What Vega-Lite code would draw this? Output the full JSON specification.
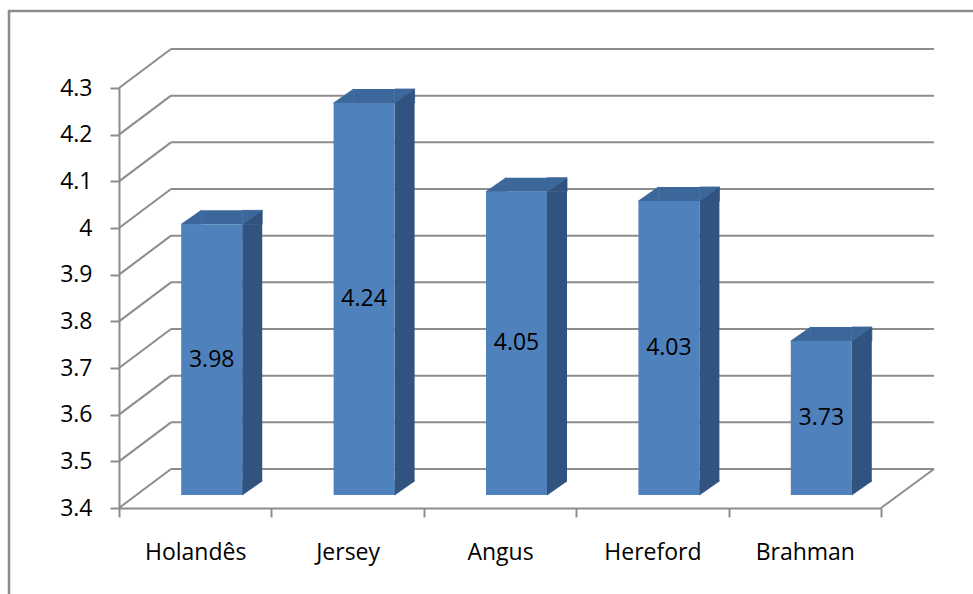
{
  "$schema": "https://vega.github.io/schema/vega-lite/v6.json",
  "width": 762,
  "height": 420,
  "autosize": {"type": "none"},
  "padding": {"left": 119, "top": 88, "right": 92, "bottom": 86},
  "background": "#ffffff",
  "config": {"view": {"stroke": null}, "font": "Open Sans"},
  "datasets": {
    "breeds": [
      {"breed": "Holandês", "value": 3.98},
      {"breed": "Jersey", "value": 4.24},
      {"breed": "Angus", "value": 4.05},
      {"breed": "Hereford", "value": 4.03},
      {"breed": "Brahman", "value": 3.73}
    ],
    "grid": [
      {"v": 3.4}, {"v": 3.5}, {"v": 3.6}, {"v": 3.7}, {"v": 3.8},
      {"v": 3.9}, {"v": 4.0}, {"v": 4.1}, {"v": 4.2}, {"v": 4.3}
    ]
  },
  "resolve": {"scale": {"x": "independent"}},
  "layer": [
    {
      "layer": [
        {
          "data": {"values": [{}]},
          "mark": {"type": "rect", "filled": false, "stroke": "#8c8c8c", "strokeWidth": 2.5, "xOffset": -110, "x2Offset": 200, "yOffset": -77, "y2Offset": 200},
          "encoding": {
            "x": {"datum": 0, "type": "quantitative", "scale": {"domain": [0, 1]}, "axis": null},
            "x2": {"datum": 1},
            "y": {
              "datum": 4.3, "type": "quantitative",
              "scale": {"domain": [3.4, 4.3], "zero": false, "nice": false},
              "axis": {
                "title": null, "values": [3.4, 3.5, 3.6, 3.7, 3.8, 3.9, 4.0, 4.1, 4.2, 4.3],
                "format": ".1~f", "labelFontSize": 23, "labelColor": "#000000", "labelPadding": 18,
                "tickSize": 9, "tickWidth": 2, "tickColor": "#8c8c8c",
                "domainColor": "#8c8c8c", "domainWidth": 2, "grid": false
              }
            },
            "y2": {"datum": 3.4}
          }
        },
        {
          "data": {"name": "grid"},
          "mark": {"type": "rule", "color": "#8c8c8c", "strokeWidth": 2, "xOffset": 52, "x2Offset": 53, "yOffset": -39, "y2Offset": -39},
          "encoding": {
            "x": {"datum": 0, "type": "quantitative", "scale": {"domain": [0, 1]}, "axis": null},
            "x2": {"datum": 1},
            "y": {"field": "v", "type": "quantitative", "scale": {"domain": [3.4, 4.3], "zero": false, "nice": false}}
          }
        },
        {
          "data": {"name": "grid"},
          "mark": {"type": "rule", "color": "#8c8c8c", "strokeWidth": 2, "x2Offset": 52, "y2Offset": -39},
          "encoding": {
            "x": {"datum": 0, "type": "quantitative", "scale": {"domain": [0, 1]}, "axis": null},
            "x2": {"datum": 0},
            "y": {"field": "v", "type": "quantitative", "scale": {"domain": [3.4, 4.3], "zero": false, "nice": false}},
            "y2": {"field": "v"}
          }
        },
        {
          "data": {"values": [{}]},
          "mark": {"type": "rule", "color": "#8c8c8c", "strokeWidth": 2, "x2Offset": 53, "y2Offset": -39},
          "encoding": {
            "x": {"datum": 1, "type": "quantitative", "scale": {"domain": [0, 1]}, "axis": null},
            "x2": {"datum": 1},
            "y": {"datum": 3.4, "type": "quantitative", "scale": {"domain": [3.4, 4.3], "zero": false, "nice": false}},
            "y2": {"datum": 3.4}
          }
        }
      ]
    },
    {
      "data": {"name": "breeds"},
      "encoding": {
        "x": {
          "field": "breed", "type": "nominal", "sort": null,
          "scale": {"paddingInner": 0, "paddingOuter": 0},
          "axis": {
            "title": null, "labelAngle": 0, "labelFontSize": 23, "labelColor": "#000000",
            "labelPadding": 24, "tickBand": "extent", "tickSize": 9, "tickWidth": 2,
            "tickColor": "#8c8c8c", "domainColor": "#8c8c8c", "domainWidth": 2, "grid": false
          }
        }
      },
      "layer": [
        {
          "mark": {"type": "bar", "size": 20, "xOffset": 57, "yOffset": -13, "y2Offset": -27, "color": "#30537f"},
          "encoding": {
            "y": {"field": "value", "type": "quantitative", "scale": {"domain": [3.4, 4.3], "zero": false, "nice": false}},
            "y2": {"datum": 3.4}
          }
        },
        {
          "mark": {"type": "point", "shape": "M0,0L-2,0L0,-1.4Z", "size": 400, "filled": true, "opacity": 1, "color": "#30537f", "stroke": "#30537f", "strokeWidth": 0.8, "strokeJoin": "bevel", "xOffset": 67, "yOffset": -13},
          "encoding": {
            "y": {"field": "value", "type": "quantitative", "scale": {"domain": [3.4, 4.3], "zero": false, "nice": false}}
          }
        },
        {
          "mark": {"type": "point", "shape": "M0,0L2,0L0,1.4Z", "size": 400, "filled": true, "opacity": 1, "color": "#30537f", "stroke": "#30537f", "strokeWidth": 0.8, "strokeJoin": "bevel", "xOffset": 47, "yOffset": -27},
          "encoding": {
            "y": {"datum": 3.4, "type": "quantitative", "scale": {"domain": [3.4, 4.3], "zero": false, "nice": false}}
          }
        },
        {
          "mark": {"type": "bar", "size": 41, "xOffset": 26.5, "yOffset": -27, "y2Offset": -13, "color": "#3c679b"},
          "encoding": {
            "y": {"field": "value", "type": "quantitative", "scale": {"domain": [3.4, 4.3], "zero": false, "nice": false}},
            "y2": {"field": "value"}
          }
        },
        {
          "mark": {"type": "point", "shape": "M0,0L-2,0L0,-1.4Z", "size": 400, "filled": true, "opacity": 1, "color": "#3c679b", "stroke": "#3c679b", "strokeWidth": 0.8, "strokeJoin": "bevel", "xOffset": 6, "yOffset": -13},
          "encoding": {
            "y": {"field": "value", "type": "quantitative", "scale": {"domain": [3.4, 4.3], "zero": false, "nice": false}}
          }
        },
        {
          "mark": {"type": "point", "shape": "M0,0L2,0L0,1.4Z", "size": 400, "filled": true, "opacity": 1, "color": "#3c679b", "stroke": "#3c679b", "strokeWidth": 0.8, "strokeJoin": "bevel", "xOffset": 47, "yOffset": -27},
          "encoding": {
            "y": {"field": "value", "type": "quantitative", "scale": {"domain": [3.4, 4.3], "zero": false, "nice": false}}
          }
        },
        {
          "mark": {"type": "bar", "size": 61, "xOffset": 16.5, "yOffset": -13, "y2Offset": -13, "color": "#4f81bd"},
          "encoding": {
            "y": {"field": "value", "type": "quantitative", "scale": {"domain": [3.4, 4.3], "zero": false, "nice": false}},
            "y2": {"datum": 3.4}
          }
        },
        {
          "transform": [{"calculate": "(datum.value + 3.4) / 2", "as": "label_y"}],
          "mark": {"type": "text", "fontSize": 23, "color": "#000000", "xOffset": 16.5, "yOffset": -13, "baseline": "middle", "align": "center"},
          "encoding": {
            "y": {"field": "label_y", "type": "quantitative", "scale": {"domain": [3.4, 4.3], "zero": false, "nice": false}},
            "text": {"field": "value", "type": "quantitative", "format": ".2f"}
          }
        }
      ]
    }
  ]
}
